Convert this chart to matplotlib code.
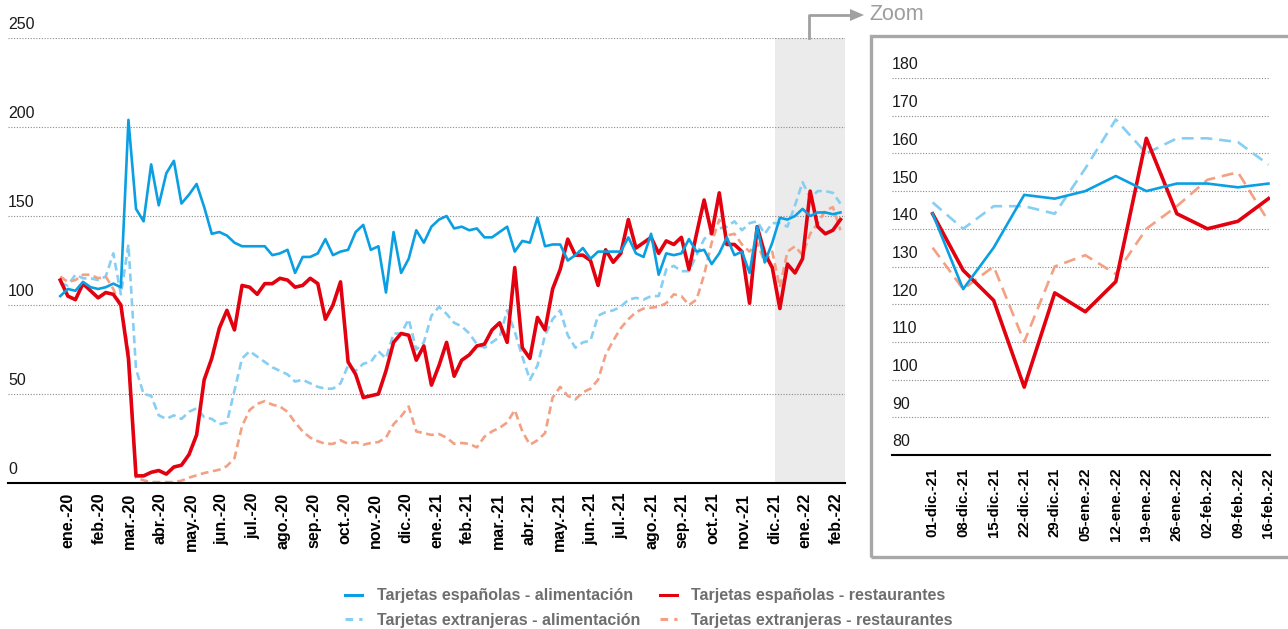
import numpy as np
import matplotlib.pyplot as plt
from matplotlib.lines import Line2D
from matplotlib.patches import Rectangle

plt.rcParams['font.family'] = ['Liberation Sans', 'DejaVu Sans']

# tick labels
meses = ['ene.-20', 'feb.-20', 'mar.-20', 'abr.-20', 'may.-20', 'jun.-20', 'jul.-20',
         'ago.-20', 'sep.-20', 'oct.-20', 'nov.-20', 'dic.-20', 'ene.-21', 'feb.-21',
         'mar.-21', 'abr.-21', 'may.-21', 'jun.-21', 'jul.-21', 'ago.-21', 'sep.-21',
         'oct.-21', 'nov.-21', 'dic.-21', 'ene.-22', 'feb.-22']
semanas_zoom = ['01-dic.-21', '08-dic.-21', '15-dic.-21', '22-dic.-21', '29-dic.-21',
                '05-ene.-22', '12-ene.-22', '19-ene.-22', '26-ene.-22', '02-feb.-22',
                '09-feb.-22', '16-feb.-22']

# weekly series
esp_alim = [105, 109, 108, 113, 110, 109, 110, 112, 110, 204,
            154, 147, 179, 156, 174, 181, 157, 162, 168, 155,
            140, 141, 139, 135, 133, 133, 133, 133, 128, 129,
            131, 118, 127, 127, 129, 137, 128, 130, 131, 141,
            145, 131, 133, 107, 141, 118, 126, 142, 135, 144,
            148, 150, 143, 144, 142, 143, 138, 138, 141, 144,
            130, 136, 135, 149, 133, 134, 134, 125, 128, 132,
            126, 130, 130, 130, 130, 138, 129, 127, 140, 117,
            129, 128, 129, 137, 130, 131, 123, 129, 138, 128,
            130, 118, 144, 124, 135, 149, 148, 150, 154, 150,
            152, 152, 151, 152]
esp_rest = [114, 105, 103, 112, 108, 104, 107, 106, 100, 70,
            4, 4, 6, 7, 5, 9, 10, 16, 27, 58,
            70, 87, 97, 86, 111, 110, 106, 112, 112, 115,
            114, 110, 111, 115, 112, 92, 100, 113, 68, 61,
            48, 49, 50, 63, 79, 84, 83, 69, 77, 55,
            66, 79, 60, 69, 72, 77, 78, 86, 90, 79,
            121, 76, 70, 93, 86, 109, 120, 137, 128, 128,
            125, 111, 131, 124, 129, 148, 132, 135, 138, 129,
            136, 134, 138, 120, 140, 159, 140, 163, 134, 134,
            130, 101, 144, 129, 121, 98, 123, 118, 126, 164,
            144, 140, 142, 148]
ext_alim = [112, 111, 117, 115, 115, 114, 116, 129, 106, 134,
            64, 50, 49, 38, 36, 38, 36, 40, 42, 37,
            36, 33, 34, 52, 70, 74, 71, 68, 65, 63,
            61, 57, 58, 56, 54, 53, 53, 56, 66, 63,
            67, 68, 74, 70, 84, 84, 92, 75, 79, 94,
            99, 95, 90, 88, 84, 78, 76, 79, 82, 97,
            85, 71, 58, 66, 83, 92, 97, 83, 76, 79,
            80, 94, 96, 97, 99, 103, 104, 103, 105, 105,
            120, 122, 119, 119, 128, 137, 141, 143, 144, 147,
            142, 146, 147, 140, 146, 146, 144, 156, 169, 160,
            164, 164, 163, 157]
ext_rest = [116, 113, 114, 117, 117, 115, 116, 109, 99, 74,
            3, 1.5, 0.5, 0.5, 0.5, 0.5, 1.3, 3, 4.3, 5.6,
            6.5, 7.5, 9.5, 14, 32, 41, 44.5, 46, 44, 43,
            40, 34, 29, 25.5, 23.5, 22, 22, 24, 22, 23,
            21.5, 22.5, 23, 25.5, 33, 37.5, 43, 29, 28, 27,
            27.5, 25.5, 22, 22.5, 22, 20, 26, 29, 31, 34,
            41, 29, 21.5, 24, 28, 48, 54, 49, 47, 51,
            53, 58, 72, 80, 87, 92, 96, 98, 98.5, 99,
            101, 106, 105, 100, 103, 117, 135, 148, 139, 140,
            134, 130, 135, 124, 130, 110, 130, 133, 128, 140,
            146, 153, 155, 142]

azul = '#0a9fe2'
rojo = '#e3000f'
azul_claro = '#86cef3'
salmon = '#f3a083'

W, H = 1288, 629
fig = plt.figure(figsize=(W / 100, H / 100), dpi=100)


def caja(x0, y0, x1, y1):
    return [x0 / W, 1 - y1 / H, (x1 - x0) / W, (y1 - y0) / H]


def dibujar(ax, x, a, b, c, d, dash):
    ax.plot(x, c, color=azul_claro, lw=1.9, ls=(0, dash), zorder=3)
    ax.plot(x, d, color=salmon, lw=1.9, ls=(0, dash), zorder=3)
    ax.plot(x, b, color=rojo, lw=2.6, zorder=4)
    ax.plot(x, a, color=azul, lw=1.9, zorder=5)


def estilo(ax, ticks):
    for s in ['top', 'right', 'left']:
        ax.spines[s].set_visible(False)
    ax.spines['bottom'].set_color('black')
    ax.spines['bottom'].set_linewidth(1.5)
    ax.spines['bottom'].set_zorder(6)
    ax.set_yticks(ticks)
    ax.set_yticklabels([])
    ax.tick_params(axis='y', length=0)
    ax.grid(axis='y', ls=(0, (1, 1.5)), color='#8a8a8a', lw=0.8)
    ax.set_axisbelow(True)
    for v in ticks:
        ax.annotate(str(v), xy=(0, v), xycoords=('axes fraction', 'data'),
                    xytext=(0, 4), textcoords='offset points',
                    ha='left', va='bottom', fontsize=11.5, color='#1a1a1a')


# main chart
ax = fig.add_axes(caja(8, 38, 845, 483))
x = np.arange(len(esp_alim))
ax.axvspan(94.3, 103.6, color='#ebebeb', lw=0, zorder=0)
dibujar(ax, x, esp_alim, esp_rest, ext_alim, ext_rest, (3, 1.7))
ax.set_xlim(-6.9, 103.6)
ax.set_ylim(0, 250)
estilo(ax, [0, 50, 100, 150, 200, 250])
ax.set_xticks(np.linspace(1.06, 102.4, len(meses)))
ax.set_xticklabels(meses, rotation=90, fontweight='bold', fontsize=11.5)
ax.tick_params(axis='x', length=0, pad=7)

# zoom chart
az = fig.add_axes(caja(892, 78, 1270, 455))
xz = np.arange(len(semanas_zoom))
n = len(semanas_zoom)
dibujar(az, xz, esp_alim[-n:], esp_rest[-n:], ext_alim[-n:], ext_rest[-n:], (4.5, 2.6))
az.set_xlim(-1.33, 11.05)
az.set_ylim(80, 180)
estilo(az, [80, 90, 100, 110, 120, 130, 140, 150, 160, 170, 180])
az.set_xticks(xz)
az.set_xticklabels(semanas_zoom, rotation=90, fontweight='bold', fontsize=10.8)
az.tick_params(axis='x', length=0, pad=9)

# frame and arrow
gris = '#a0a0a0'
fig.add_artist(Rectangle((871 / W, 1 - 557 / H), (1320 - 871) / W, (557 - 36) / H,
                         transform=fig.transFigure, fill=False, ec='#a8a8a8', lw=2.4))
fig.add_artist(Line2D([809 / W, 809 / W, 852 / W], [1 - 38 / H, 1 - 15 / H, 1 - 15 / H],
                      transform=fig.transFigure, color=gris, lw=2))
fig.add_artist(plt.Polygon([[850 / W, 1 - 9 / H], [864 / W, 1 - 15 / H], [850 / W, 1 - 21 / H]],
                           closed=True, transform=fig.transFigure, color=gris, lw=0))
fig.text(869 / W, 1 - 15 / H, 'Zoom', color='#9d9d9d', fontsize=15.5, ha='left', va='center')

# legend
handles = [Line2D([], [], color=azul, lw=2.2),
           Line2D([], [], color=azul_claro, lw=2.2, ls=(0, (2.5, 2))),
           Line2D([], [], color=rojo, lw=2.2),
           Line2D([], [], color=salmon, lw=2.2, ls=(0, (2.5, 2)))]
labels = ['Tarjetas españolas - alimentación', 'Tarjetas extranjeras - alimentación',
          'Tarjetas españolas - restaurantes', 'Tarjetas extranjeras - restaurantes']
fig.legend(handles, labels, ncol=2, loc='center', bbox_to_anchor=(649 / W, 1 - 608 / H),
           frameon=False, prop={'weight': 'bold', 'size': 11.5}, labelcolor='#6e6e6e',
           handlelength=1.05, handletextpad=0.9, columnspacing=1.25, labelspacing=0.6)

fig.savefig('out.png', dpi=100)
